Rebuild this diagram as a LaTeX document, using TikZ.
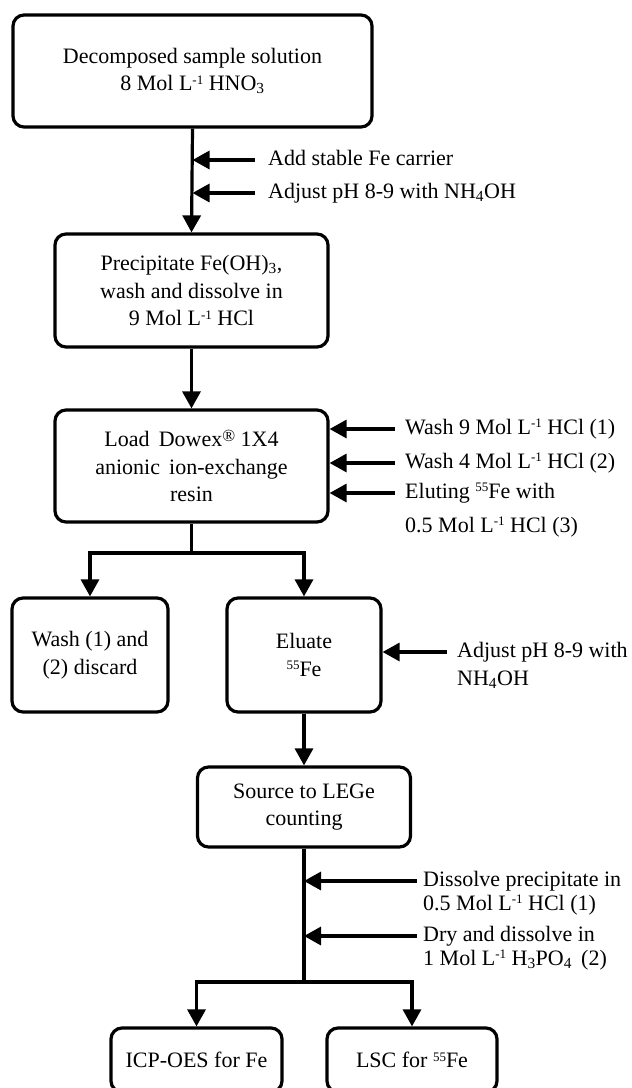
\documentclass[tikz,border=0pt]{standalone}
\usepackage{fontspec}
\setmainfont{Liberation Serif}
\usetikzlibrary{arrows.meta}
\newcommand\mysup[1]{\raisebox{6.5pt}{\fontsize{13}{13}\selectfont #1}}
\begin{document}
\begin{tikzpicture}[x=1pt,y=-1pt,
  box/.style={draw, line width=3.2pt, rounded corners=11pt, align=center, inner sep=0pt,
    font=\fontsize{22}{27.5}\selectfont},
  lbl/.style={anchor=west, inner sep=0pt, text height=14pt, text depth=4pt,
    font=\fontsize{22}{26}\selectfont},
  ln/.style={line width=3.2pt},
  arr/.style={line width=3.2pt, -{Triangle[length=17pt,width=18pt]}},
]
\useasboundingbox (0,0) rectangle (632,1088);

% boxes
\node[box, minimum width=359pt, minimum height=112pt] (b1) at (192.5,71)
  {Decomposed sample solution\\8 Mol L\mysup{-1} HNO\textsubscript{3}};
\node[box, minimum width=273pt, minimum height=113pt] (b2) at (191.5,290.5)
  {Precipitate Fe(OH)\textsubscript{3},\\wash and dissolve in\\9 Mol L\mysup{-1} HCl};
\node[box, minimum width=273pt, minimum height=112pt] (b3) at (191.5,466)
  {Load\, Dowex{\raisebox{5pt}{\fontsize{17}{17}\selectfont ®}} 1X4\\anionic\, ion-exchange\\resin};
\node[box, minimum width=156pt, minimum height=114pt] (b4) at (90,655)
  {Wash (1) and\\(2) discard};
\node[box, minimum width=154pt, minimum height=114pt] (b5) at (304,655)
  {Eluate\\\mysup{55}Fe};
\node[box, minimum width=213pt, minimum height=80pt] (b6) at (304,807)
  {Source to LEGe\\counting};
\node[box, minimum width=171pt, minimum height=64pt] (b7) at (196.5,1060)
  {ICP-OES for Fe};
\node[box, minimum width=170pt, minimum height=64pt] (b8) at (412,1060)
  {LSC for \mysup{55}Fe};

% side labels
\node[lbl] (s1) at (268,160) {Add stable Fe carrier};
\node[lbl] (s2) at (268,193) {Adjust pH 8-9 with NH\textsubscript{4}OH};

\node[lbl] (w1) at (405,429) {Wash 9 Mol L\mysup{-1} HCl (1)};
\node[lbl] (w2) at (405,463) {Wash 4 Mol L\mysup{-1} HCl (2)};
\node[lbl] (w3) at (405,493) {Eluting \mysup{55}Fe with};
\node[lbl] (w4) at (405,527) {0.5 Mol L\mysup{-1} HCl (3)};

\node[lbl] (e1) at (457,652) {Adjust pH 8-9 with};
\node[lbl] (e2) at (457,680) {NH\textsubscript{4}OH};

\node[lbl] (d1) at (423,881) {Dissolve precipitate in};
\node[lbl] (d2) at (423,905) {0.5 Mol L\mysup{-1} HCl (1)};
\node[lbl] (d3) at (423,936) {Dry and dissolve in};
\node[lbl] (d4) at (423,960) {1 Mol L\mysup{-1} H\textsubscript{3}PO\textsubscript{4}\, (2)};

% junction coordinates
\coordinate (j1) at (b3.south |- 0,553);
\coordinate (j2) at (b6.south |- 0,982);

% main flow
\draw[arr] (b1.south) -- (b2.north);
\draw[arr] (b2.south) -- (b3.north);
\draw[ln] (b3.south) -- (j1);
\draw[arr] (j1) -| (b4.north);
\draw[arr] (j1) -| (b5.north);
\draw[arr] (b5.south) -- (b6.north);
\draw[ln] (b6.south) -- (j2);
\draw[arr] (j2) -| (b7.north);
\draw[arr] (j2) -| (b8.north);

% side arrows
\draw[arr] ([xshift=-13pt]s1.west) -- (s1.west -| b1.south);
\draw[arr] ([xshift=-13pt]s2.west) -- (s2.west -| b1.south);
\draw[arr] ([xshift=-10pt]w1.west) -- (w1.west -| b3.east);
\draw[arr] ([xshift=-10pt]w2.west) -- (w2.west -| b3.east);
\draw[arr] ([xshift=-10pt]w3.west) -- (w3.west -| b3.east);
\draw[arr] ([xshift=-10pt]e1.west) -- (e1.west -| b5.east);
\draw[arr] ([xshift=-6pt]d1.west) -- (d1.west -| b6.south);
\draw[arr] ([xshift=-6pt]d3.west) -- (d3.west -| b6.south);
\end{tikzpicture}
\end{document}
